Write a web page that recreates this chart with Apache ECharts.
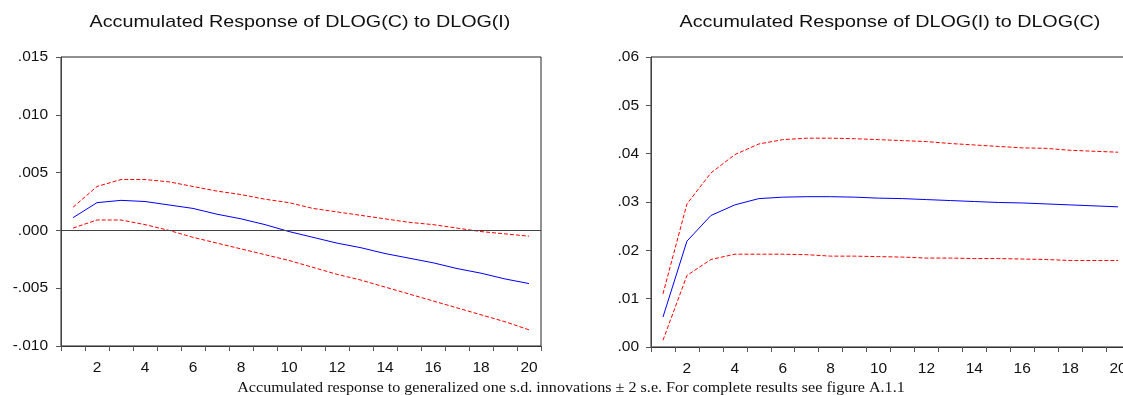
<!DOCTYPE html>
<html>
<head>
<meta charset="utf-8">
<script src="https://cdn.jsdelivr.net/npm/echarts@6/dist/echarts.min.js"></script>
<style>
  html, body { margin: 0; padding: 0; background: #fff; overflow: hidden; }
  #main { width: 1140px; height: 395px; }
</style>
</head>
<body>
<div id="main"></div>
<script>
// periods 1..20
var periods = ['1','2','3','4','5','6','7','8','9','10','11','12','13','14','15','16','17','18','19','20']

// Accumulated Response of DLOG(C) to DLOG(I)
var cOnI = [0.0011, 0.0024, 0.0026, 0.0025, 0.0022, 0.0019, 0.0014, 0.0010, 0.0005, -0.0001,
  -0.0006, -0.0011, -0.0015, -0.0020, -0.0024, -0.0028, -0.0033, -0.0037, -0.0042, -0.0046]
var cOnIUpper = [0.0020, 0.0038, 0.0044, 0.0044, 0.0042, 0.0038, 0.0034, 0.0031, 0.0027, 0.0024,
  0.0019, 0.0016, 0.0013, 0.0010, 0.0007, 0.0005, 0.0002, -0.0001, -0.0003, -0.0005]
var cOnILower = [0.0002, 0.0009, 0.0009, 0.0005, 0.0000, -0.0006, -0.0011, -0.0016, -0.0021, -0.0026,
  -0.0032, -0.0038, -0.0043, -0.0049, -0.0055, -0.0061, -0.0067, -0.0073, -0.0079, -0.0086]

// Accumulated Response of DLOG(I) to DLOG(C)
var iOnC = [0.0062, 0.0219, 0.0272, 0.0294, 0.0307, 0.0310, 0.0311, 0.0311, 0.0310, 0.0308,
  0.0307, 0.0305, 0.0303, 0.0301, 0.0299, 0.0298, 0.0296, 0.0294, 0.0292, 0.0290]
var iOnCUpper = [0.0110, 0.0296, 0.0360, 0.0398, 0.0420, 0.0429, 0.0432, 0.0432, 0.0431, 0.0429,
  0.0427, 0.0425, 0.0421, 0.0418, 0.0415, 0.0412, 0.0411, 0.0407, 0.0405, 0.0403]
var iOnCLower = [0.0014, 0.0148, 0.0181, 0.0192, 0.0192, 0.0192, 0.0191, 0.0188, 0.0188, 0.0187,
  0.0186, 0.0184, 0.0184, 0.0183, 0.0183, 0.0182, 0.0181, 0.0179, 0.0179, 0.0179]

var titles = ['Accumulated Response of DLOG(C) to DLOG(I)', 'Accumulated Response of DLOG(I) to DLOG(C)']
var caption = 'Accumulated response to generalized one s.d. innovations \u00b1 2 s.e. For complete results see figure A.1.1'

var sans = 'Liberation Sans, Arial, sans-serif'
var serif = 'Liberation Serif, Times New Roman, serif'

function xAxisFor(gridIndex) {
  return {
    type: 'category',
    gridIndex: gridIndex,
    data: periods,
    boundaryGap: true,
    axisLine: { onZero: false, lineStyle: { color: '#333', width: 1 } },
    axisTick: { show: true, interval: 0, length: 5, lineStyle: { color: '#555' } },
    axisLabel: {
      interval: function (idx) { return idx % 2 === 1 },
      color: '#111', fontFamily: sans, fontSize: 15.5, margin: 14
    },
    splitLine: { show: false }
  }
}

function yAxisFor(gridIndex, min, max, interval, digits, margin) {
  return {
    type: 'value',
    gridIndex: gridIndex,
    min: min, max: max, interval: interval,
    axisLine: { show: true, lineStyle: { color: '#444', width: 1 } },
    axisTick: { show: true, length: 5, lineStyle: { color: '#555' } },
    axisLabel: {
      color: '#111', fontFamily: sans, fontSize: 15.5, margin: margin,
      formatter: function (v) {
        return v.toFixed(digits).replace('0.', '.')
      }
    },
    splitLine: { show: false }
  }
}

function line(name, data, idx, color, dashed) {
  return {
    name: name,
    type: 'line',
    xAxisIndex: idx,
    yAxisIndex: idx,
    data: data,
    symbol: 'none',
    silent: true,
    lineStyle: { color: color, width: 1, type: dashed ? [4, 2] : 'solid' }
  }
}

// 文字横向略拉宽，贴近原图
function label(text, x, y, font, size, sx) {
  return {
    type: 'text',
    x: x, y: y,
    scaleX: sx,
    silent: true,
    style: { text: text, fontFamily: font, fontSize: size, fill: '#111', align: 'center', verticalAlign: 'middle' }
  }
}

var myChart = echarts.init(document.getElementById('main'))

var option = {
  animation: false,
  backgroundColor: '#fff',
  graphic: [
    label(titles[0], 300, 22.5, sans, 17, 1.16),
    label(titles[1], 890, 22.5, sans, 17, 1.16),
    label(caption, 571, 388.5, serif, 15, 1.075)
  ],
  grid: [
    { left: 61, top: 57, width: 480, height: 289, show: true, borderColor: '#222', borderWidth: 1 },
    { left: 651, top: 57, width: 479, height: 290, show: true, borderColor: '#222', borderWidth: 1 }
  ],
  xAxis: [xAxisFor(0), xAxisFor(1)],
  yAxis: [
    yAxisFor(0, -0.01, 0.015, 0.005, 3, 13),
    yAxisFor(1, 0, 0.06, 0.01, 2, 12)
  ],
  series: [
    // 左图
    Object.assign(line('response', cOnI, 0, '#0000ff', false), {
      markLine: {
        silent: true,
        symbol: ['none', 'none'],
        label: { show: false },
        lineStyle: { color: '#444', width: 1, type: 'solid' },
        data: [{ yAxis: 0 }]
      }
    }),
    line('+2 s.e.', cOnIUpper, 0, '#ff0000', true),
    line('-2 s.e.', cOnILower, 0, '#ff0000', true),
    // 右图
    line('response', iOnC, 1, '#0000ff', false),
    line('+2 s.e.', iOnCUpper, 1, '#ff0000', true),
    line('-2 s.e.', iOnCLower, 1, '#ff0000', true)
  ]
}

myChart.setOption(option)
</script>
</body>
</html>
